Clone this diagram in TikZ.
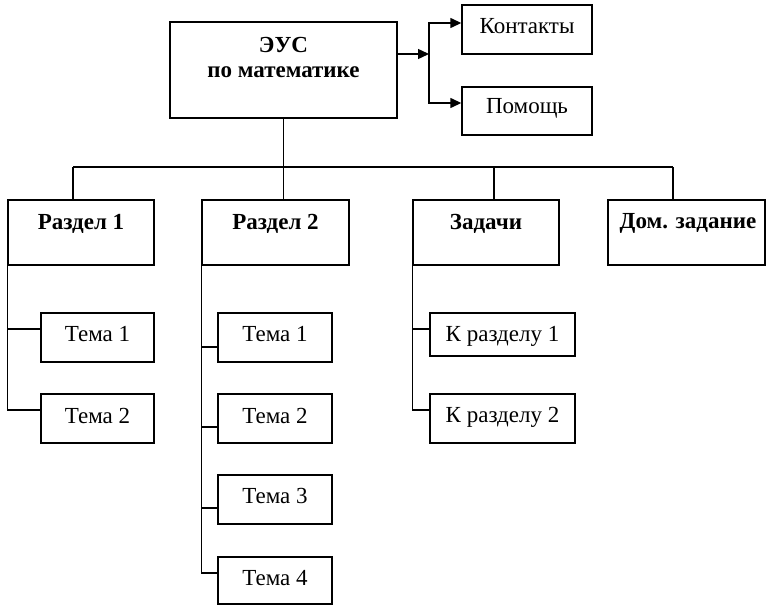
\documentclass[tikz,border=0pt]{standalone}
\usepackage{fontspec}
\setmainfont{Liberation Serif}
\usetikzlibrary{arrows.meta}
\begin{document}
\begin{tikzpicture}[x=1pt,y=-1pt,
  box/.style={draw, rectangle, line width=1.4pt, inner sep=0pt},
  txt/.style={anchor=base, inner sep=0pt, font=\fontsize{23}{26}\selectfont},
  btxt/.style={txt, font=\fontsize{23}{26}\selectfont\bfseries},
  line/.style={line width=1.4pt},
  arr/.style={line width=1.4pt, -{Triangle[length=11pt,width=10pt]}}]
\useasboundingbox (0,0) rectangle (766,605);
% boxes
\node[box, minimum width=227pt, minimum height=96pt] (main) at (283.5,70) {};
\node[box, minimum width=130pt, minimum height=49pt] (kont) at (527,29.5) {};
\node[box, minimum width=130pt, minimum height=48pt] (pom) at (527,111) {};
\node[box, minimum width=146pt, minimum height=65pt] (r1) at (81,232.5) {};
\node[box, minimum width=147pt, minimum height=65pt] (r2) at (275.5,232.5) {};
\node[box, minimum width=146pt, minimum height=65pt] (zad) at (486,232.5) {};
\node[box, minimum width=157pt, minimum height=65pt] (dom) at (686.5,232.5) {};
\node[box, minimum width=113pt, minimum height=49pt] (r1t1) at (97.5,337.5) {};
\node[box, minimum width=113pt, minimum height=49pt] (r1t2) at (97.5,418.5) {};
\node[box, minimum width=114pt, minimum height=49pt] (r2t1) at (275,337.5) {};
\node[box, minimum width=114pt, minimum height=49pt] (r2t2) at (275,418.5) {};
\node[box, minimum width=114pt, minimum height=49pt] (r2t3) at (275,499.5) {};
\node[box, minimum width=114pt, minimum height=47pt] (r2t4) at (275,580.5) {};
\node[box, minimum width=145pt, minimum height=43pt] (k1) at (502.5,334.5) {};
\node[box, minimum width=145pt, minimum height=49pt] (k2) at (502.5,418.5) {};
% texts
\node[btxt] (tmain1) at (283.5,52.5) {ЭУС};
\node[btxt] (tmain2) at (283.5,77.7) {по математике};
\node[txt] (tkont) at (527,33) {Контакты};
\node[txt] (tpom) at (527,113.5) {Помощь};
\node[btxt] (tr1) at (81,229) {Раздел 1};
\node[btxt] (tr2) at (275.5,229) {Раздел 2};
\node[btxt] (tzad) at (486,229) {Задачи};
\node[btxt] (tdom) at (688,228.5) {Дом. задание};
\node[txt] (tr1t1) at (97.5,341.7) {Тема 1};
\node[txt] (tr1t2) at (97.5,423.3) {Тема 2};
\node[txt] (tr2t1) at (275,341.7) {Тема 1};
\node[txt] (tr2t2) at (275,423.3) {Тема 2};
\node[txt] (tr2t3) at (275,503.3) {Тема 3};
\node[txt] (tr2t4) at (275,585) {Тема 4};
\node[txt] (tk1) at (502.5,341.7) {К разделу 1};
\node[txt] (tk2) at (502.5,422.7) {К разделу 2};
% right arrows
\coordinate (fork) at (429,54);
\draw[arr] ([yshift=16pt]main.east) -- (fork);
\draw[arr] (fork) |- ([yshift=6.5pt]kont.west);
\draw[arr] (fork) |- ([yshift=8pt]pom.west);
% bus
\coordinate (b1) at (73,167);
\coordinate (b3) at (494,167);
\coordinate (b4) at (673,167);
\draw[line] (main.south) -- (main.south |- b1);
\draw[line] (b1) -- (b4);
\draw[line] (b1) -- (b1 |- r1.north);
\draw[line] (main.south |- b1) -- (main.south |- r2.north);
\draw[line] (b3) -- (b3 |- zad.north);
\draw[line] (b4) -- (b4 |- dom.north);
% section 1
\draw[line] (r1.south west) |- ([yshift=8.5pt]r1t2.west);
\draw[line] ([yshift=8.5pt]r1t1.west) -| (r1.south west);
% section 2
\draw[line] (r2.south west) |- ([yshift=7.5pt]r2t4.west);
\draw[line] ([yshift=-9.5pt]r2t1.west) -| (r2.south west);
\draw[line] ([yshift=-8.5pt]r2t2.west) -| (r2.south west);
\draw[line] ([yshift=-8.5pt]r2t3.west) -| (r2.south west);
% tasks
\draw[line] (zad.south west) |- ([yshift=8.5pt]k2.west);
\draw[line] ([yshift=5.5pt]k1.west) -| (zad.south west);
\end{tikzpicture}
\end{document}
